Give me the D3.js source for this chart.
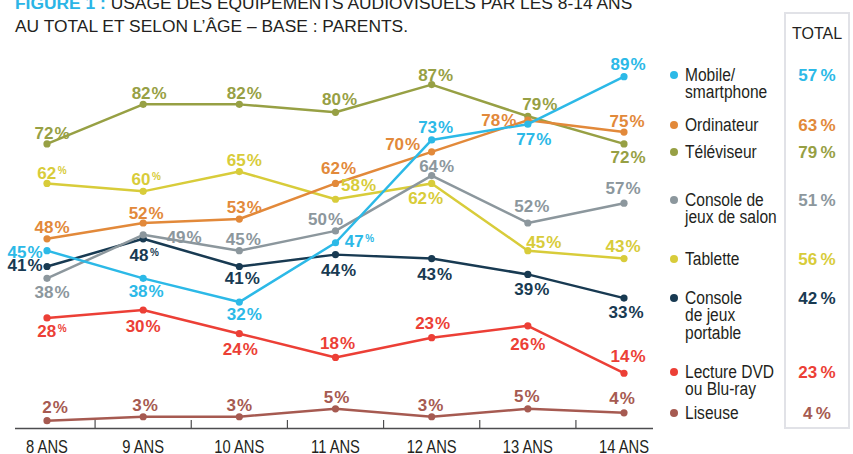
<!DOCTYPE html>
<html lang="fr">
<head>
<meta charset="utf-8">
<script src="https://cdn.jsdelivr.net/npm/d3@7"></script>
<style>
    body { margin: 0; background: #fff; }
    svg { display: block; }
</style>
</head>
<body>
<div id="chart"></div>
<script>
// ages on the x axis
const ages = ["8 ANS", "9 ANS", "10 ANS", "11 ANS", "12 ANS", "13 ANS", "14 ANS"];

// % of kids using each device, by age
const mobile = [45, 38, 32, 47, 73, 77, 89];
const ordinateur = [48, 52, 53, 62, 70, 78, 75];
const televiseur = [72, 82, 82, 80, 87, 79, 72];
const consoleSalon = [38, 49, 45, 50, 64, 52, 57];
const tablette = [62, 60, 65, 58, 62, 45, 43];
const consolePortable = [41, 48, 41, 44, 43, 39, 33];
const lectureDvd = [28, 30, 24, 18, 23, 26, 14];
const liseuse = [2, 3, 3, 5, 3, 5, 4];

const legendLabels = [
    ["Mobile/", "smartphone"],
    ["Ordinateur"],
    ["Téléviseur"],
    ["Console de", "jeux de salon"],
    ["Tablette"],
    ["Console", "de jeux", "portable"],
    ["Lecture DVD", "ou Blu-ray"],
    ["Liseuse"]
];
const totals = [57, 63, 79, 51, 56, 42, 23, 4];

const seriesValues = [mobile, ordinateur, televiseur, consoleSalon, tablette, consolePortable, lectureDvd, liseuse];

// styling / layout
const colors = ["#2cb9e7", "#e2893a", "#97a044", "#8c979d", "#d8cc3a", "#183a52", "#ec3f36", "#a65a51"];
const drawOrder = [7, 6, 5, 4, 3, 2, 1, 0];
const legendY = [81, 131, 158, 206, 265, 304, 378, 419];

// label offset from each point: [dx, dy of baseline]
const labelOffsets = [
    [[-22, 7], [3, 19], [5, 18], [24, 4], [4, -7], [6, 21], [4, -7]],
    [[5, -6], [3, -4], [5, -6], [3, -9], [-29, -2], [-29, 6], [3, -5]],
    [[5, -5], [6, -5], [5, -5], [4, -7], [4, -4], [12, -6], [4, 19]],
    [[5, 20], [41, 8], [4, -6], [-10, -6], [5, -4], [4, -11], [-1, -9]],
    [[5, -4], [3, -6], [5, -6], [23, -8], [-6, 21], [16, -3], [-1, -7]],
    [[-22, 5], [1, 22], [3, 18], [3, 21], [3, 21], [4, 21], [2, 20]],
    [[5, 19], [0, 22], [1, 21], [2, -8], [1, -9], [0, 24], [4, -11]],
    [[8, -8], [2, -6], [0, -6], [1, -6], [-1, -6], [-1, -7], [-2, -9]]
];
// labels drawn with a small raised %
const smallPct = new Set(["4-0", "4-1", "5-1", "6-0", "0-3"]);

const width = 853, height = 454;
const font = '"Liberation Sans", Arial, sans-serif';
const squeeze = 0.82; // fake a condensed face

const svg = d3.select("#chart")
    .append("svg")
    .attr("width", width)
    .attr("height", height);

const x = d3.scalePoint()
    .domain(ages)
    .range([47, 624]);

const y = d3.scaleLinear()
    .domain([0, 100])
    .range([428.6, 33.2]);

// title
const title1 = svg.append("text")
    .attr("x", 15)
    .attr("y", 9)
    .attr("font-family", font)
    .attr("font-size", 17.4)
    .attr("fill", "#231f20");
title1.append("tspan")
    .attr("font-weight", "bold")
    .attr("fill", "#2bb5e6")
    .text("FIGURE 1 : ");
title1.append("tspan")
    .text("USAGE DES ÉQUIPEMENTS AUDIOVISUELS PAR LES 8-14 ANS");

svg.append("text")
    .attr("x", 15)
    .attr("y", 32)
    .attr("font-family", font)
    .attr("font-size", 17.4)
    .attr("fill", "#231f20")
    .text("AU TOTAL ET SELON L’ÂGE – BASE : PARENTS.");

// total box
svg.append("rect")
    .attr("x", 785)
    .attr("y", 13)
    .attr("width", 64)
    .attr("height", 415)
    .attr("fill", "none")
    .attr("stroke", "#e1e2e7")
    .attr("stroke-width", 2);

svg.append("text")
    .attr("x", 817)
    .attr("y", 39)
    .attr("text-anchor", "middle")
    .attr("font-family", font)
    .attr("font-size", 16)
    .attr("fill", "#231f20")
    .text("TOTAL");

// x axis
const axis = svg.append("g").attr("class", "x-axis");
axis.append("line")
    .attr("x1", 15)
    .attr("x2", 653)
    .attr("y1", 428.5)
    .attr("y2", 428.5)
    .attr("stroke", "#4d4d4f")
    .attr("stroke-width", 1.5);

const mids = d3.pairs(ages).map(([a, b]) => (x(a) + x(b)) / 2);
axis.selectAll(".tick-mark")
    .data(mids)
    .enter()
    .append("line")
    .attr("class", "tick-mark")
    .attr("x1", d => d)
    .attr("x2", d => d)
    .attr("y1", 420)
    .attr("y2", 428.5)
    .attr("stroke", "#4d4d4f")
    .attr("stroke-width", 1.2);

axis.selectAll(".age-label")
    .data(ages)
    .enter()
    .append("text")
    .attr("class", "age-label")
    .attr("transform", d => `translate(${x(d)},453) scale(${squeeze},1)`)
    .attr("text-anchor", "middle")
    .attr("font-family", font)
    .attr("font-size", 18)
    .attr("fill", "#231f20")
    .text(d => d);

// lines + points
const line = d3.line()
    .x((d, i) => x(ages[i]))
    .y(d => y(d));

drawOrder.forEach(s => {
    const g = svg.append("g").attr("class", "series");

    g.append("path")
        .datum(seriesValues[s])
        .attr("d", line)
        .attr("fill", "none")
        .attr("stroke", colors[s])
        .attr("stroke-width", 2.5)
        .attr("stroke-linejoin", "round");

    g.selectAll("circle")
        .data(seriesValues[s])
        .enter()
        .append("circle")
        .attr("cx", (d, i) => x(ages[i]))
        .attr("cy", d => y(d))
        .attr("r", 3.6)
        .attr("fill", colors[s]);
});

// value labels on top
drawOrder.forEach(s => {
    seriesValues[s].forEach((v, i) => {
        const [dx, dy] = labelOffsets[s][i];
        const small = smallPct.has(s + "-" + i);
        const t = svg.append("text")
            .attr("x", x(ages[i]) + dx)
            .attr("y", y(v) + dy)
            .attr("text-anchor", "middle")
            .attr("font-family", font)
            .attr("font-weight", "bold")
            .attr("font-size", 17)
            .attr("fill", colors[s]);
        t.append("tspan").text(v);
        t.append("tspan")
            .attr("dx", small ? 1.5 : 1)
            .attr("dy", small ? -5 : 0)
            .attr("font-size", small ? 10 : 17)
            .text("%");
    });
});

// legend
const legend = svg.selectAll(".legend-item")
    .data(legendLabels)
    .enter()
    .append("g")
    .attr("class", "legend-item");

legend.append("circle")
    .attr("cx", 674)
    .attr("cy", (d, i) => legendY[i] - 6)
    .attr("r", 4)
    .attr("fill", (d, i) => colors[i]);

legend.append("text")
    .attr("transform", (d, i) => `translate(685,${legendY[i]}) scale(${squeeze},1)`)
    .attr("font-family", font)
    .attr("font-size", 19)
    .attr("fill", "#231f20")
    .selectAll("tspan")
    .data(d => d)
    .enter()
    .append("tspan")
    .attr("x", 0)
    .attr("dy", (d, j) => j === 0 ? 0 : 17.5)
    .text(d => d);

legend.append("text")
    .attr("x", 817)
    .attr("y", (d, i) => legendY[i])
    .attr("text-anchor", "middle")
    .attr("font-family", font)
    .attr("font-weight", "bold")
    .attr("font-size", 17)
    .attr("fill", (d, i) => colors[i])
    .text((d, i) => totals[i] + "\u2009%");
</script>
</body>
</html>
